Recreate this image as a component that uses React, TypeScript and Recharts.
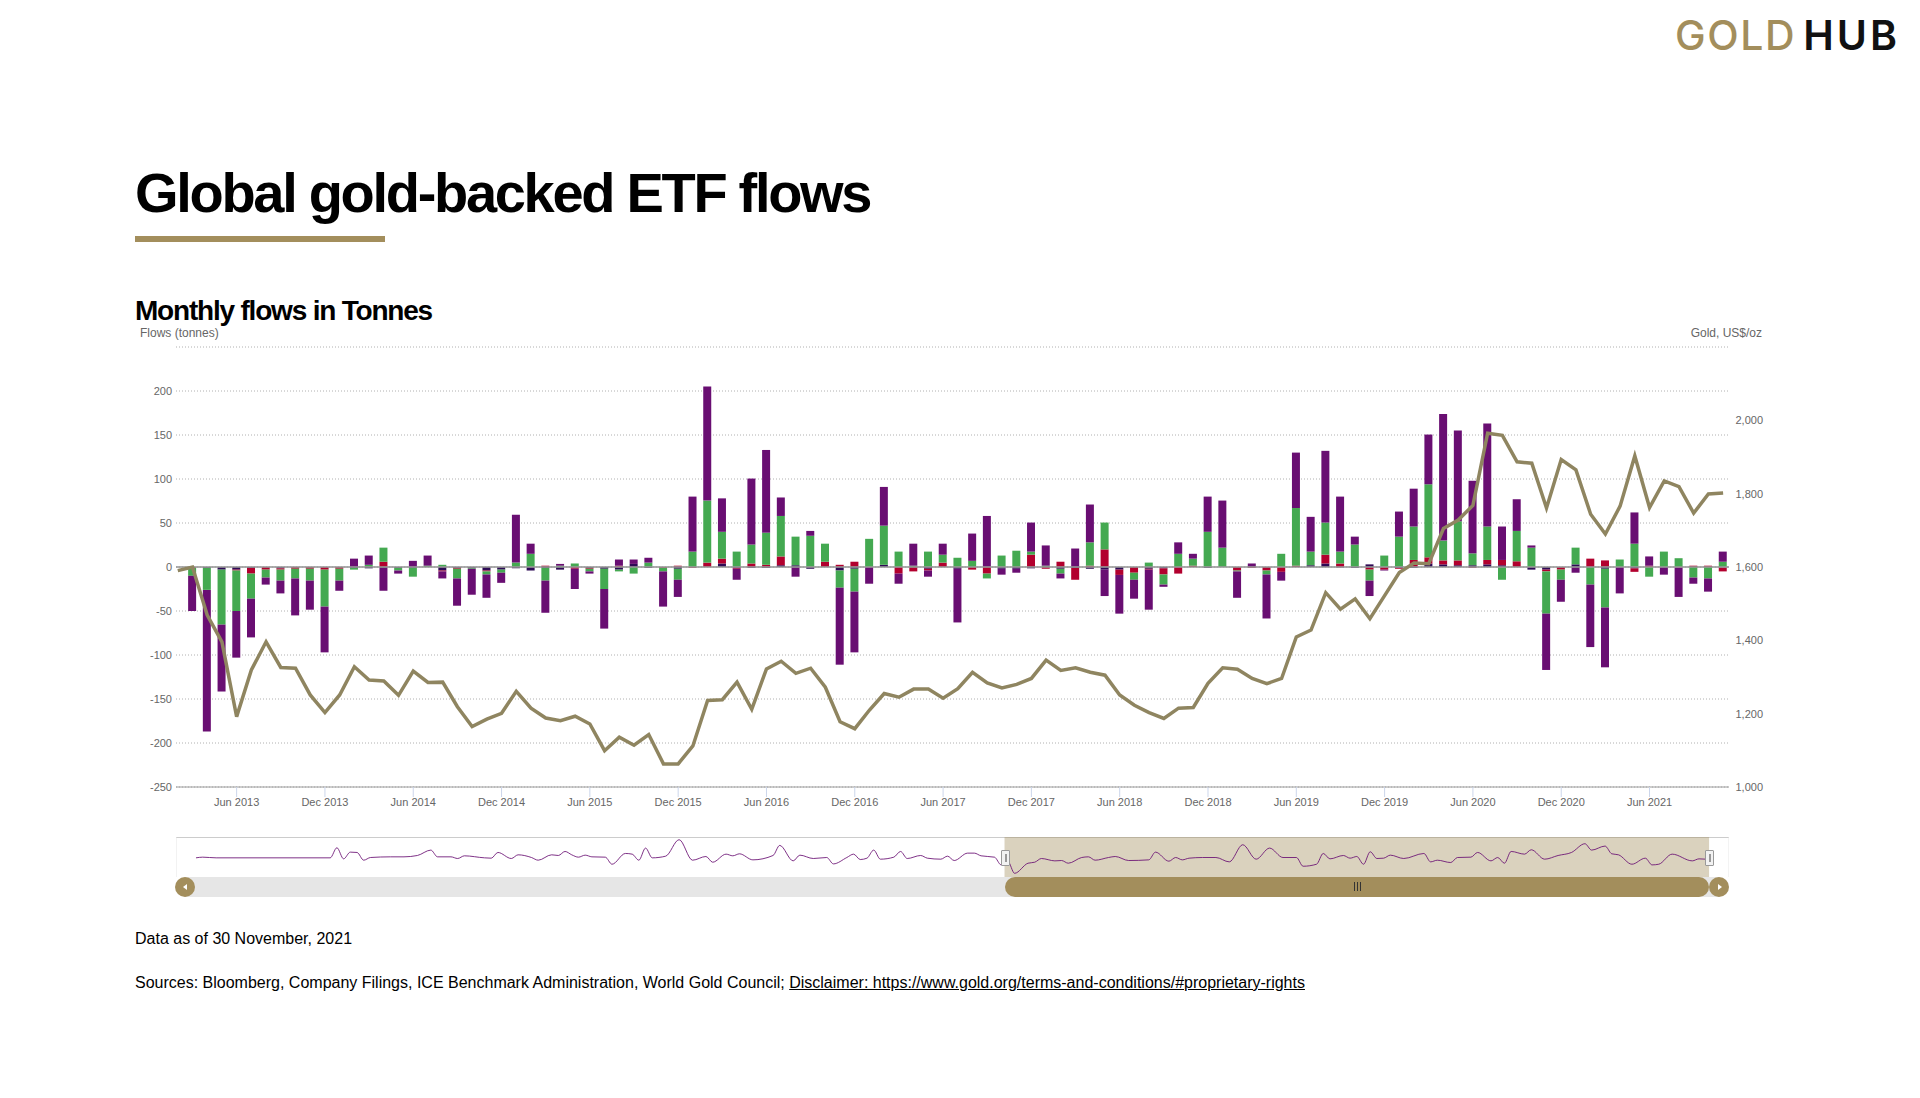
import { Bar, CartesianGrid, ComposedChart, Line, LineChart, ReferenceArea, ReferenceLine, XAxis, YAxis } from "recharts";

// monthly values, Feb 2013 (index 0) to Nov 2021 (index 105), in tonnes
const other = [
  0, 0, -1, -3, -3, -1, 0, -1.5, 0, 0, 0, 0, -1, -1.5, -1, -1, -1, 0, -4, -1, -1, -4, -3, -1.5, -4, -1, -3, 0, -1, -2,
  -3, 3.5, -1, 0, -2, 0, 0, 4, -1, -1, -1, 2, 2, -2, 0, -4, -2, 0, 2.5, 0, 0, -2, 0, -2, 0, 0, -2, -2, -1.5, 0,
  -2, -1, -2, -3, -3, 0, -2, -1.5, 0, 0, -1, 0, 0, 0, 0, 0, 0, 2, 4, -0.5, -1, 3, 0, -1, -1, 4, 3, 2, 2, 3,
  2, 0, -3, -3, 0, 3, 0, -2, 0, -1.5, 0, 0, 0, 0, 0, -0.5,
];
const asia = [
  0, -1, 0, 0, -1, -6.5, -3, -1.5, -2, -2, -3, -2, 0, 0, 6, 0, 0, 0, -1, -1, 0, -1, 0, 0, 0, 1.5, 0, -2, -1, 0,
  1.5, 0, 0, -1, 1.5, -1, 5, 5.5, -1, 4, 2.5, 10, 0, 0, 6, 2.5, 6, 0, 0, -7.5, -5, -2, 5, 0, -3, -7.5, 0, 0, 14, -2,
  6, -13.5, 1.5, 20, -6, -6.5, -1, -7, -7.5, 1.5, 0, 0, -4, -1, -4, -5.5, 1.5, 0, 10, 4, 0, -3, -3, -1, 8, 7, 4.5, 5.5, -1, 5,
  6, 6.5, 0, -2, -3, 0, 9.5, 7.5, 0, -4, 1.5, 0, -0.5, 1.5, 1.5, -4.5,
];
const europe = [
  0, -9, -25, -62.5, -46, -28.5, -9, -12.5, -11, -13.5, -42, -13.5, -2, 2.5, 16, -3, -10, 1.5, 2.5, -11, -1, -3.5, -3.5, 5, 15, -14.5, 1.5, 4, -3, -23,
  -2, -7.5, 5, -4, -12.5, 17.5, 70.5, 30.5, 17.5, 21.5, 36.5, 46, 32.5, 35.5, 20.5, -19.5, -26, 32, 44.5, 17.5, 1.5, 17.5, 9, 10.5, 7, -5.5, 13, 18.5, 3.5, 1.5,
  -5.5, 0, 26.5, 30.5, 0, -8, 5, -11.5, 15, 8, 40, 22, -1, 0, -4.5, 15, 65.5, 15.5, 36.5, 13.5, 25.5, -12.5, 13, 34.5, 38, 83, 22.5, 44.5, 13.5, 38,
  -14.5, 34.5, 22, -48, -11.5, 19, -20, -44, 8.5, 26.5, -11, 17.5, 10, -12, -13, 6,
];
const northAmerica = [
  0, -40, -161, -76, -53, -44, -8, -14.5, -42, -33, -52, -11.5, 9.5, 10.5, -26, -3.5, 7, 11.5, -8, -31, -29.5, -26.5, -11.5, 54.5, 11.5, -36.5, 2, -23, -2.5, -45,
  7, 5, 5.5, -40, -19.5, 62.5, 129.5, 38, -12.5, 75, 94, 21, -11, 5.5, 0, -87.5, -69, -19, 44, -11.5, 25, -7, 12.5, -61, 31, 58, -6.7, -4.5, 33, 23,
  -5.5, 21, 43, -30, -44, -21.5, -45.5, -2.5, 13, 5.5, 40, 53.5, -30, 4, -50, -10, 63, 39.5, 81.5, 62.5, 9, -17.5, -1, 28.5, 43, 56.5, 144, 103, 82.5, 117,
  38, 36, 2.5, -64, -25, -6.5, -71, -68, -30, 35.5, 10.5, -8.7, -33.5, -7, -15, 11.5,
];
const goldPrice = [
  1590, 1600, 1469, 1396, 1192, 1319, 1396, 1326, 1324, 1251, 1203, 1251, 1328, 1292, 1289, 1250, 1316, 1285, 1286, 1219, 1165, 1185, 1201, 1261, 1215, 1188, 1181, 1193, 1172, 1099,
  1136, 1114, 1143, 1063, 1063, 1112, 1236, 1238, 1286, 1212, 1322, 1343, 1310, 1324, 1272, 1178, 1159, 1210, 1255, 1245, 1267, 1267, 1242, 1268, 1313, 1284, 1270, 1280, 1296, 1346,
  1318, 1325, 1313, 1305, 1251, 1223, 1203, 1187, 1215, 1217, 1283, 1325, 1321, 1296, 1282, 1296, 1409, 1428, 1530, 1485, 1513, 1459, 1522, 1585, 1611, 1609, 1705, 1728, 1768, 1965,
  1959, 1887, 1883, 1761, 1893, 1865, 1744, 1690, 1766, 1903, 1762, 1835, 1819, 1747, 1799, 1802,
];

const xTicks = [4, 10, 16, 22, 28, 34, 40, 46, 52, 58, 64, 70, 76, 82, 88, 94, 100];
const xTickLabels = [
  "Jun 2013", "Dec 2013", "Jun 2014", "Dec 2014", "Jun 2015", "Dec 2015", "Jun 2016", "Dec 2016", "Jun 2017",
  "Dec 2017", "Jun 2018", "Dec 2018", "Jun 2019", "Dec 2019", "Jun 2020", "Dec 2020", "Jun 2021",
];
const flowTicks = [-250, -200, -150, -100, -50, 0, 50, 100, 150, 200, 250];
const goldTicks = [1000, 1200, 1400, 1600, 1800, 2000];

// navigator line, months since Feb 2003 and its value
const navMonths = [
  0, 1, 3, 20, 21, 22, 23, 24, 25, 26, 29, 31, 33, 35, 36, 38, 39, 40, 43, 44, 45, 47, 48, 50, 51, 53, 54, 55, 56, 57,
  58, 59, 61, 62, 64, 65, 66, 67, 68, 70, 72, 74, 76, 77, 79, 80, 81, 83, 86, 87, 89, 90, 92, 94, 95, 97, 98, 99, 100, 101,
  102, 104, 105, 106, 108, 109, 111, 112, 113, 115, 116, 117, 119, 120, 121, 122, 124, 125, 126, 128, 129, 130, 132, 133, 134, 136, 137, 139, 142, 143,
  145, 146, 147, 148, 150, 152, 154, 156, 158, 160, 162, 164, 165, 167, 168, 169, 171, 172, 173, 174, 175, 176, 177, 178, 180, 183, 184, 185, 187, 188,
  190, 191, 193, 194, 195, 196, 198, 199, 201, 203, 205, 207, 208, 210, 211, 212, 214, 216, 217, 218, 220, 223, 224, 225,
];
const navValues = [
  0, 8, 0, 0, 120, -12, 68, 64, -28, 4, 12, 12, 28, 92, 12, 12, -8, 24, 0, -4, 64, -8, 36, 4, -28, 36, 28, 76, 36, 8,
  32, 12, 8, -76, 52, 44, -28, 116, 0, 20, 216, -28, 16, -52, 44, 24, 48, -24, 28, 148, -36, 32, -8, 4, -72, 4, 44, -20, -4, 92,
  -16, 8, 76, -8, 28, -4, -16, 20, -32, 56, 56, 24, 8, -84, -44, -184, -64, -52, -8, -36, -32, -64, 4, 12, -28, 4, 16, -32, -24, 68,
  -40, 4, -24, -4, 4, 4, -48, 156, -16, 116, 4, 4, -100, -76, 52, -12, 28, -4, 16, -76, 72, -8, -4, 32, -8, 52, -48, -28, -56, 4,
  8, 64, -36, 4, -64, 76, 44, 96, -16, 28, 64, 168, 92, 140, 48, 36, -76, -4, -84, -76, 44, -36, -12, -16,
];
const navTicks = [10, 34, 58, 82, 106, 130, 154, 178, 202];

const chartData = goldPrice.map((gold, i) => ({
  idx: i,
  gold,
  other: other[i],
  asia: asia[i],
  europe: europe[i],
  northAmerica: northAmerica[i],
}));
const navData = navMonths.map((month, i) => ({ month, flow: navValues[i] }));

const FONT = '"Liberation Sans", Arial, sans-serif';
const GOLD = "#a38e5c";

function LeftTick({ x, y, payload }: any) {
  if (payload.value === 250) return null;
  return (
    <text x={x + 7} y={y + 4} textAnchor="end" fontSize={11} fontFamily={FONT} fill="#666">
      {payload.value}
    </text>
  );
}

function RightTick({ x, y, payload }: any) {
  return (
    <text x={x + 23} y={y + 4} textAnchor="end" fontSize={11} fontFamily={FONT} fill="#666">
      {payload.value.toLocaleString("en-US")}
    </text>
  );
}

function box(left: number, top: number, width: number, height: number, style: any = {}) {
  return <div style={{ position: "absolute", left, top, width, height, ...style }} />;
}

function Handle({ left }: { left: number }) {
  return (
    <div
      style={{
        position: "absolute", left, top: 850, width: 7, height: 14, background: "#f2f2f2",
        border: "1px solid #999", borderRadius: 1,
      }}
    >
      {box(2.5, 3, 0.8, 8, { background: "#999" })}
      {box(4.2, 3, 0.8, 8, { background: "#999" })}
    </div>
  );
}

export default function App() {
  return (
    <div style={{ position: "absolute", left: 0, top: 0, width: 1920, height: 1098, background: "#fff", fontFamily: FONT, overflow: "hidden" }}>
      <div style={{ position: "absolute", left: 1675, top: 8, fontFamily: "Inter", fontSize: 41, lineHeight: "54px", whiteSpace: "nowrap" }}>
        <span style={{ color: GOLD, fontWeight: 500, letterSpacing: 1.6 }}>GOLD</span>
        <span style={{ color: "#111", fontWeight: 600, marginLeft: 7, letterSpacing: 3 }}>HUB</span>
      </div>

      <div style={{ position: "absolute", left: 135, top: 158, fontSize: 56, lineHeight: "70px", fontWeight: 700, color: "#000", letterSpacing: -2.3, whiteSpace: "nowrap" }}>
        Global gold-backed ETF flows
      </div>
      {box(135, 236, 250, 6, { background: GOLD })}
      <div style={{ position: "absolute", left: 135, top: 294, fontSize: 28, lineHeight: "34px", fontWeight: 700, color: "#000", letterSpacing: -1.2, whiteSpace: "nowrap" }}>
        Monthly flows in Tonnes
      </div>
      <div style={{ position: "absolute", left: 140, top: 326, fontSize: 12, lineHeight: "14px", color: "#666" }}>Flows (tonnes)</div>
      <div style={{ position: "absolute", right: 158, top: 326, fontSize: 12, lineHeight: "14px", color: "#666" }}>Gold, US$/oz</div>

      <div style={{ position: "absolute", left: 0, top: 0 }}>
        <ComposedChart
          width={1920}
          height={830}
          data={chartData}
          stackOffset="sign"
          margin={{ top: 347, right: 131, bottom: 13, left: 116 }}
        >
          <CartesianGrid yAxisId="flows" vertical={false} stroke="#b0b0b0" strokeDasharray="1 2" />
          <XAxis
            dataKey="idx"
            type="number"
            domain={[-0.12, 105.4]}
            allowDataOverflow
            ticks={xTicks}
            interval={0}
            height={30}
            tickSize={10}
            tickLine={{ stroke: "#ccd6eb" }}
            axisLine={{ stroke: "#9a9a9a" }}
            tick={{ fontSize: 11, fontFamily: FONT, fill: "#666" }}
            tickMargin={1}
            tickFormatter={(v: number) => xTickLabels[xTicks.indexOf(v)]}
          />
          <YAxis yAxisId="flows" width={60} domain={[-250, 250]} ticks={flowTicks} interval={0} axisLine={false} tickLine={false} tick={<LeftTick />} tickMargin={5} />
          <YAxis yAxisId="gold" orientation="right" width={60} domain={[1000, 2200]} ticks={goldTicks} interval={0} axisLine={false} tickLine={false} tick={<RightTick />} tickMargin={5} />
          <Bar yAxisId="flows" dataKey="other" stackId="flows" fill="#2e0a55" barSize={8} isAnimationActive={false} />
          <Bar yAxisId="flows" dataKey="asia" stackId="flows" fill="#b2002e" barSize={8} isAnimationActive={false} />
          <Bar yAxisId="flows" dataKey="europe" stackId="flows" fill="#44a951" barSize={8} isAnimationActive={false} />
          <Bar yAxisId="flows" dataKey="northAmerica" stackId="flows" fill="#690e72" barSize={8} isAnimationActive={false} />
          <ReferenceLine yAxisId="flows" y={0} stroke="#999" strokeWidth={2} strokeOpacity={0.8} />
          <Line yAxisId="gold" dataKey="gold" type="linear" stroke="#8f8560" strokeWidth={3.5} dot={false} isAnimationActive={false} />
        </ComposedChart>
      </div>

      {box(176, 837, 1553, 1, { background: "#ccc" })}
      <div style={{ position: "absolute", left: 176, top: 837 }}>
        <LineChart width={1553} height={40} data={navData} margin={{ top: 0, right: 0, bottom: 0, left: 0 }}>
          <CartesianGrid horizontal={false} stroke="#e6e6e6" />
          <XAxis dataKey="month" type="number" domain={[-2.98, 228.47]} ticks={navTicks} interval={0} height={0} tick={false} tickLine={false} axisLine={false} />
          <YAxis hide domain={[-228, 248]} />
          <Line dataKey="flow" type="monotone" stroke="#690e72" strokeWidth={1} strokeOpacity={0.85} dot={false} isAnimationActive={false} />
          <ReferenceArea x1={120.5} x2={225.5} fill={GOLD} fillOpacity={0.4} stroke="none" />
        </LineChart>
      </div>

      {box(185, 877, 1534, 20, { background: "#e6e6e6" })}
      {box(1005, 877, 704, 20, { background: GOLD, borderRadius: 10 })}
      {box(1354, 882, 1, 9, { background: "#333" })}
      {box(1357, 882, 1, 9, { background: "#333" })}
      {box(1360, 882, 1, 9, { background: "#333" })}
      {box(175, 877, 20, 20, { background: GOLD, borderRadius: 10 })}
      {box(1709, 877, 20, 20, { background: GOLD, borderRadius: 10 })}
      <div style={{ position: "absolute", left: 183, top: 884, width: 0, height: 0, borderTop: "3px solid transparent", borderBottom: "3px solid transparent", borderRight: "4px solid #fff" }} />
      <div style={{ position: "absolute", left: 1718, top: 884, width: 0, height: 0, borderTop: "3px solid transparent", borderBottom: "3px solid transparent", borderLeft: "4px solid #fff" }} />
      <Handle left={1001} />
      <Handle left={1705} />

      <div style={{ position: "absolute", left: 135, top: 930, fontSize: 16, lineHeight: "18px", color: "#000" }}>Data as of 30 November, 2021</div>
      <div style={{ position: "absolute", left: 135, top: 974, fontSize: 16, lineHeight: "18px", color: "#000", whiteSpace: "nowrap" }}>
        Sources: Bloomberg, Company Filings, ICE Benchmark Administration, World Gold Council;{" "}
        <span style={{ textDecoration: "underline" }}>Disclaimer: https://www.gold.org/terms-and-conditions/#proprietary-rights</span>
      </div>
    </div>
  );
}
